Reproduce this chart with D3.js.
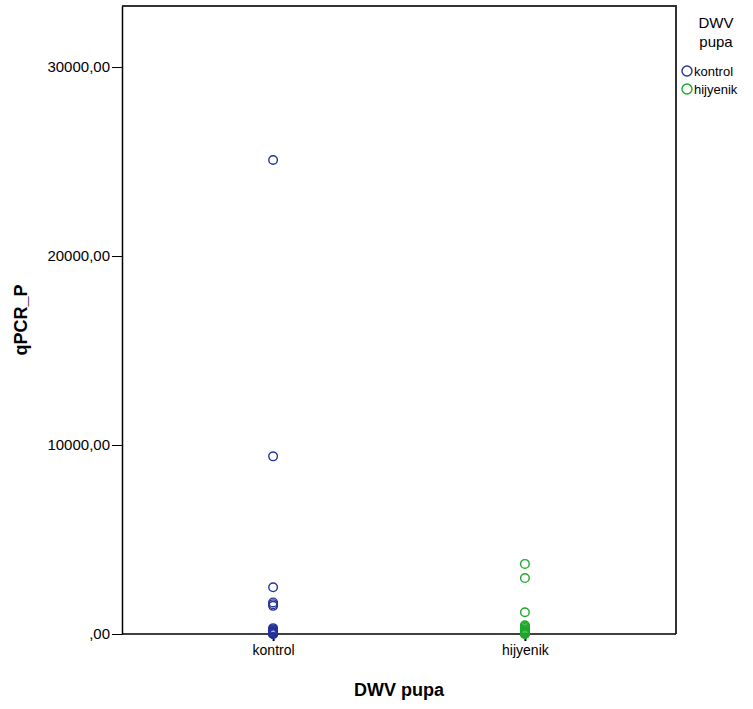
<!DOCTYPE html>
<html>
<head>
<meta charset="utf-8">
<script src="https://cdn.jsdelivr.net/npm/d3@7"></script>
<style>
  body { margin: 0; background: #fff; }
  text { font-family: "Liberation Sans", Arial, sans-serif; fill: #000; }
</style>
</head>
<body>
<svg id="chart" width="753" height="709"></svg>
<script>
// data
const groups = ["kontrol", "hijyenik"];
const groupColors = ["#24339a", "#1fa82a"];
const kontrolValues = [25080, 9400, 2470, 1670, 1580, 1490, 310, 250, 200, 160, 120, 90, 60, 40, 25, 12, 5, 2];
const hijyenikValues = [3710, 2960, 1150, 460, 390, 320, 250, 190, 140, 100, 65, 40, 20, 10, 4];
const yTicks = [0, 10000, 20000, 30000];
const yMax = 33230;

const svg = d3.select("#chart");
const m = { left: 122, top: 6, right: 676, bottom: 634 };

const x = d3.scalePoint().domain(groups).range([m.left, m.right]).padding(0.6);
const y = d3.scaleLinear().domain([0, yMax]).range([m.bottom, m.top]);

const fmt = d => d === 0 ? ",00" : d3.format("d")(d) + ",00";

// frame top/right
svg.append("path")
    .attr("d", `M${m.left},${m.top}H${m.right}V${m.bottom}`)
    .attr("fill", "none").attr("stroke", "#333").attr("stroke-width", 2);

// y axis
const yAxis = svg.append("g")
    .attr("transform", `translate(${m.left},0)`)
    .call(d3.axisLeft(y).tickValues(yTicks).tickFormat(fmt).tickSizeOuter(0).tickSizeInner(10).tickPadding(2));
yAxis.select(".domain").attr("stroke", "#000").attr("stroke-width", 1.5);
yAxis.selectAll("text").style("font-size", "15px");

// x axis
const xAxis = svg.append("g")
    .attr("transform", `translate(0,${m.bottom})`)
    .call(d3.axisBottom(x).tickSizeOuter(0).tickSizeInner(7).tickPadding(4));
xAxis.select(".domain").attr("stroke", "#000").attr("stroke-width", 1.5)
    .attr("d", `M${m.left},0H${m.right}`);
xAxis.selectAll(".tick line").attr("stroke-width", 2);
xAxis.selectAll("text").style("font-size", "14px");

// points
const series = [kontrolValues, hijyenikValues];
series.forEach((vals, i) => {
    svg.append("g").selectAll("circle")
        .data(vals)
        .join("circle")
        .attr("cx", x(groups[i]))
        .attr("cy", d => y(d))
        .attr("r", 4.3)
        .attr("fill", "none")
        .attr("stroke", groupColors[i])
        .attr("stroke-width", 1.4);
});

// axis titles
svg.append("text")
    .attr("x", (m.left + m.right) / 2).attr("y", 696)
    .attr("text-anchor", "middle")
    .style("font-size", "18px").style("font-weight", "bold")
    .text("DWV pupa");

svg.append("text")
    .attr("transform", `translate(27,${(m.top + m.bottom) / 2}) rotate(-90)`)
    .attr("text-anchor", "middle")
    .style("font-size", "18px").style("font-weight", "bold")
    .text("qPCR_P");

// legend
const lg = svg.append("g");
lg.append("text").attr("x", 716).attr("y", 28).attr("text-anchor", "middle")
    .style("font-size", "15px").text("DWV");
lg.append("text").attr("x", 716).attr("y", 47).attr("text-anchor", "middle")
    .style("font-size", "15px").text("pupa");
groups.forEach((g, i) => {
    const ly = 71 + i * 18;
    lg.append("circle").attr("cx", 687).attr("cy", ly).attr("r", 5)
        .attr("fill", "none").attr("stroke", groupColors[i]).attr("stroke-width", 1.4);
    lg.append("text").attr("x", 694).attr("y", ly + 4.5)
        .style("font-size", "13px").text(g);
});
</script>
</body>
</html>
